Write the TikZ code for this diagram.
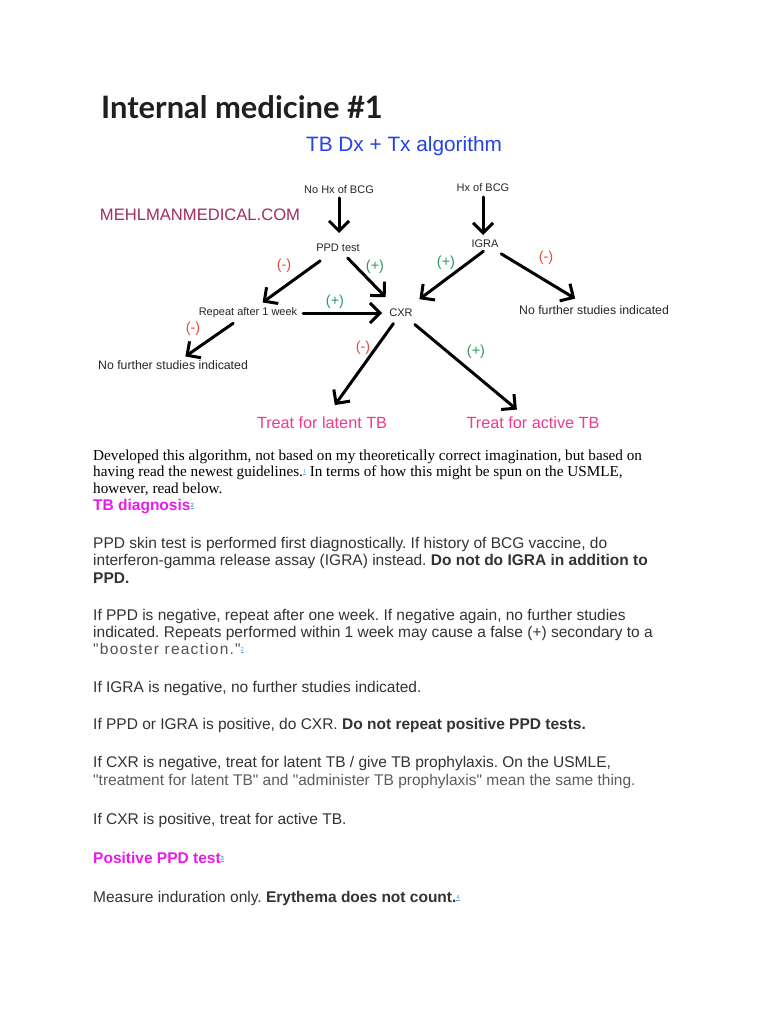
\documentclass[tikz,border=0pt]{standalone}
\usepackage{fontspec}
\setmainfont{Liberation Serif}
\setsansfont{Liberation Sans}
\newfontfamily\bodyfont{Liberation Sans}
\newfontfamily\latofont{Lato}
\usetikzlibrary{arrows.meta}
\definecolor{mmBlue}{RGB}{36, 66, 230}
\definecolor{mmMaroon}{RGB}{162, 44, 96}
\definecolor{mmPink}{RGB}{240, 58, 140}
\definecolor{mmRed}{RGB}{232, 74, 60}
\definecolor{mmGreen}{RGB}{45, 154, 98}
\definecolor{mmMagenta}{RGB}{232, 28, 232}
\definecolor{linkBlue}{RGB}{90, 160, 215}
\definecolor{bodyGray}{RGB}{51, 51, 51}
\newcommand\fnmark[1]{\raisebox{3pt}{\fontsize{6}{6}\selectfont\color{linkBlue}\underline{#1}}}
\frenchspacing

\begin{document}
\begin{tikzpicture}[
  x=1pt, y=-1pt,
  flow/.style={font=\sffamily\fontsize{11}{13}\selectfont, text=black!85, inner sep=2pt},
  nofurther/.style={flow, font=\sffamily\fontsize{12.3}{14}\selectfont},
  outcome/.style={font=\sffamily\fontsize{16.2}{18}\selectfont, text=mmPink, inner sep=2pt},
  plusmark/.style={font=\sffamily\fontsize{14.5}{16}\selectfont, text=mmGreen, inner sep=0pt},
  minusmark/.style={font=\sffamily\fontsize{14.5}{16}\selectfont, text=mmRed, inner sep=0pt},
  arr/.style={line width=3pt, line cap=round, -{Straight Barb[length=10pt,width=20pt]}},
  serifline/.style={anchor=base west, inner sep=0pt, font=\rmfamily\fontsize{15.2}{17}\selectfont, text=black},
  bodyline/.style={anchor=base west, inner sep=0pt, font=\bodyfont\fontsize{15.5}{17}\selectfont, text=bodyGray},
  heading/.style={anchor=base west, inner sep=0pt, font=\bodyfont\bfseries\fontsize{15.5}{17}\selectfont, text=mmMagenta}
]
  \fill[white] (0,0) rectangle (768,1024);
  \useasboundingbox (0,0) rectangle (768,1024);

  \node[anchor=west, inner sep=0pt, font=\latofont\bfseries\fontsize{30.9}{34}\selectfont, text=black!88]
    (doctitle) at (101,107) {Internal medicine \#1};
  \node[font=\sffamily\fontsize{20.8}{24}\selectfont, text=mmBlue] (algtitle) at (404,146)
    {TB Dx + Tx algorithm};
  \node[font=\sffamily\fontsize{16.6}{18}\selectfont, text=mmMaroon] (site) at (200,215)
    {MEHLMANMEDICAL.COM};

  \node[flow] (nohx) at (339,190) {No Hx of BCG};
  \node[flow] (ppd) at (338,248) {PPD test};
  \node[flow] (repeat) at (248,313) {Repeat after 1 week};
  \node[flow] (cxr) at (401,313) {CXR};
  \node[flow] (hx) at (483,188) {Hx of BCG};
  \node[flow] (igra) at (485,244) {IGRA};
  \node[nofurther] (nfR) at (594,310) {No further studies indicated};
  \node[nofurther] (nfL) at (173,365) {No further studies indicated};
  \node[outcome] (latent) at (322,423) {Treat for latent TB};
  \node[outcome] (active) at (533,423) {Treat for active TB};

  \draw[arr, shorten <=8pt, shorten >=15pt] (nohx.center) -- (nohx.center |- ppd.center);
  \draw[arr, shorten <=22pt, shorten >=18pt] (ppd.center) -- (repeat.center);
  \draw[arr, shorten <=14pt, shorten >=22pt] (ppd.center) -- (cxr.center);
  \draw[arr, shorten <=55pt, shorten >=19pt] (repeat.center) -- (cxr.center);
  \draw[arr, shorten <=18pt, shorten >=15pt] (repeat.center) -- (nfL.center);
  \draw[arr, shorten <=9pt, shorten >=9pt] (hx.center) -- (hx.center |- igra.center);
  \draw[arr, shorten <=2pt, shorten >=23pt] (igra.south) -- (cxr.center);
  \draw[arr, shorten <=19pt, shorten >=22pt] (igra.center) -- (nfR.center);
  \draw[arr, shorten <=13pt, shorten >=22pt] (cxr.center) -- (latent.center);
  \draw[arr, shorten <=18pt, shorten >=21pt] (cxr.center) -- (active.center);

  \node[minusmark] (ppdneg) at (284,266) {(-)};
  \node[plusmark] (ppdpos) at (375,267) {(+)};
  \node[plusmark] (reppos) at (335,302) {(+)};
  \node[minusmark] (repneg) at (193,329) {(-)};
  \node[plusmark] (igrapos) at (446,263) {(+)};
  \node[minusmark] (igraneg) at (546,258) {(-)};
  \node[minusmark] (cxrneg) at (363,348) {(-)};
  \node[plusmark] (cxrpos) at (476,352) {(+)};

  \node[serifline] (intro1) at (93,460)
    {Developed this algorithm, not based on my theoretically correct imagination, but based on};
  \node[serifline] (intro2) at (93,476)
    {having read the newest guidelines.\fnmark{1} In terms of how this might be spun on the USMLE,};
  \node[serifline] (intro3) at (93,493) {however, read below.};
  \node[heading] (dxhead) at (93,510) {TB diagnosis\fnmark{2}};

  \node[bodyline] (ppd1) at (93,548)
    {PPD skin test is performed first diagnostically. If history of BCG vaccine, do};
  \node[bodyline] (ppd2) at (93,565)
    {interferon-gamma release assay (IGRA) instead. \textbf{Do not do IGRA in addition to}};
  \node[bodyline] (ppd3) at (93,583) {\textbf{PPD.}};
  \node[bodyline] (neg1) at (93,620)
    {If PPD is negative, repeat after one week. If negative again, no further studies};
  \node[bodyline] (neg2) at (93,637)
    {indicated. Repeats performed within 1 week may cause a false (+) secondary to a};
  \node[bodyline, text=bodyGray!85] (neg3) at (93,654)
    {\addfontfeature{LetterSpace=8}"booster reaction."\fnmark{2}};
  \node[bodyline] (igraneg1) at (93,692) {If IGRA is negative, no further studies indicated.};
  \node[bodyline] (pos1) at (93,729)
    {If PPD or IGRA is positive, do CXR. \textbf{Do not repeat positive PPD tests.}};
  \node[bodyline] (cxrneg1) at (93,767)
    {If CXR is negative, treat for latent TB / give TB prophylaxis. On the USMLE,};
  \node[bodyline, text=bodyGray!80] (cxrneg2) at (93,785)
    {"treatment for latent TB" and "administer TB prophylaxis" mean the same thing.};
  \node[bodyline] (cxrpos1) at (93,824) {If CXR is positive, treat for active TB.};
  \node[heading] (ppdhead) at (93,863) {Positive PPD test\fnmark{3}};
  \node[bodyline] (indur) at (93,902)
    {Measure induration only. \textbf{Erythema does not count.}\fnmark{4}};
\end{tikzpicture}
\end{document}
